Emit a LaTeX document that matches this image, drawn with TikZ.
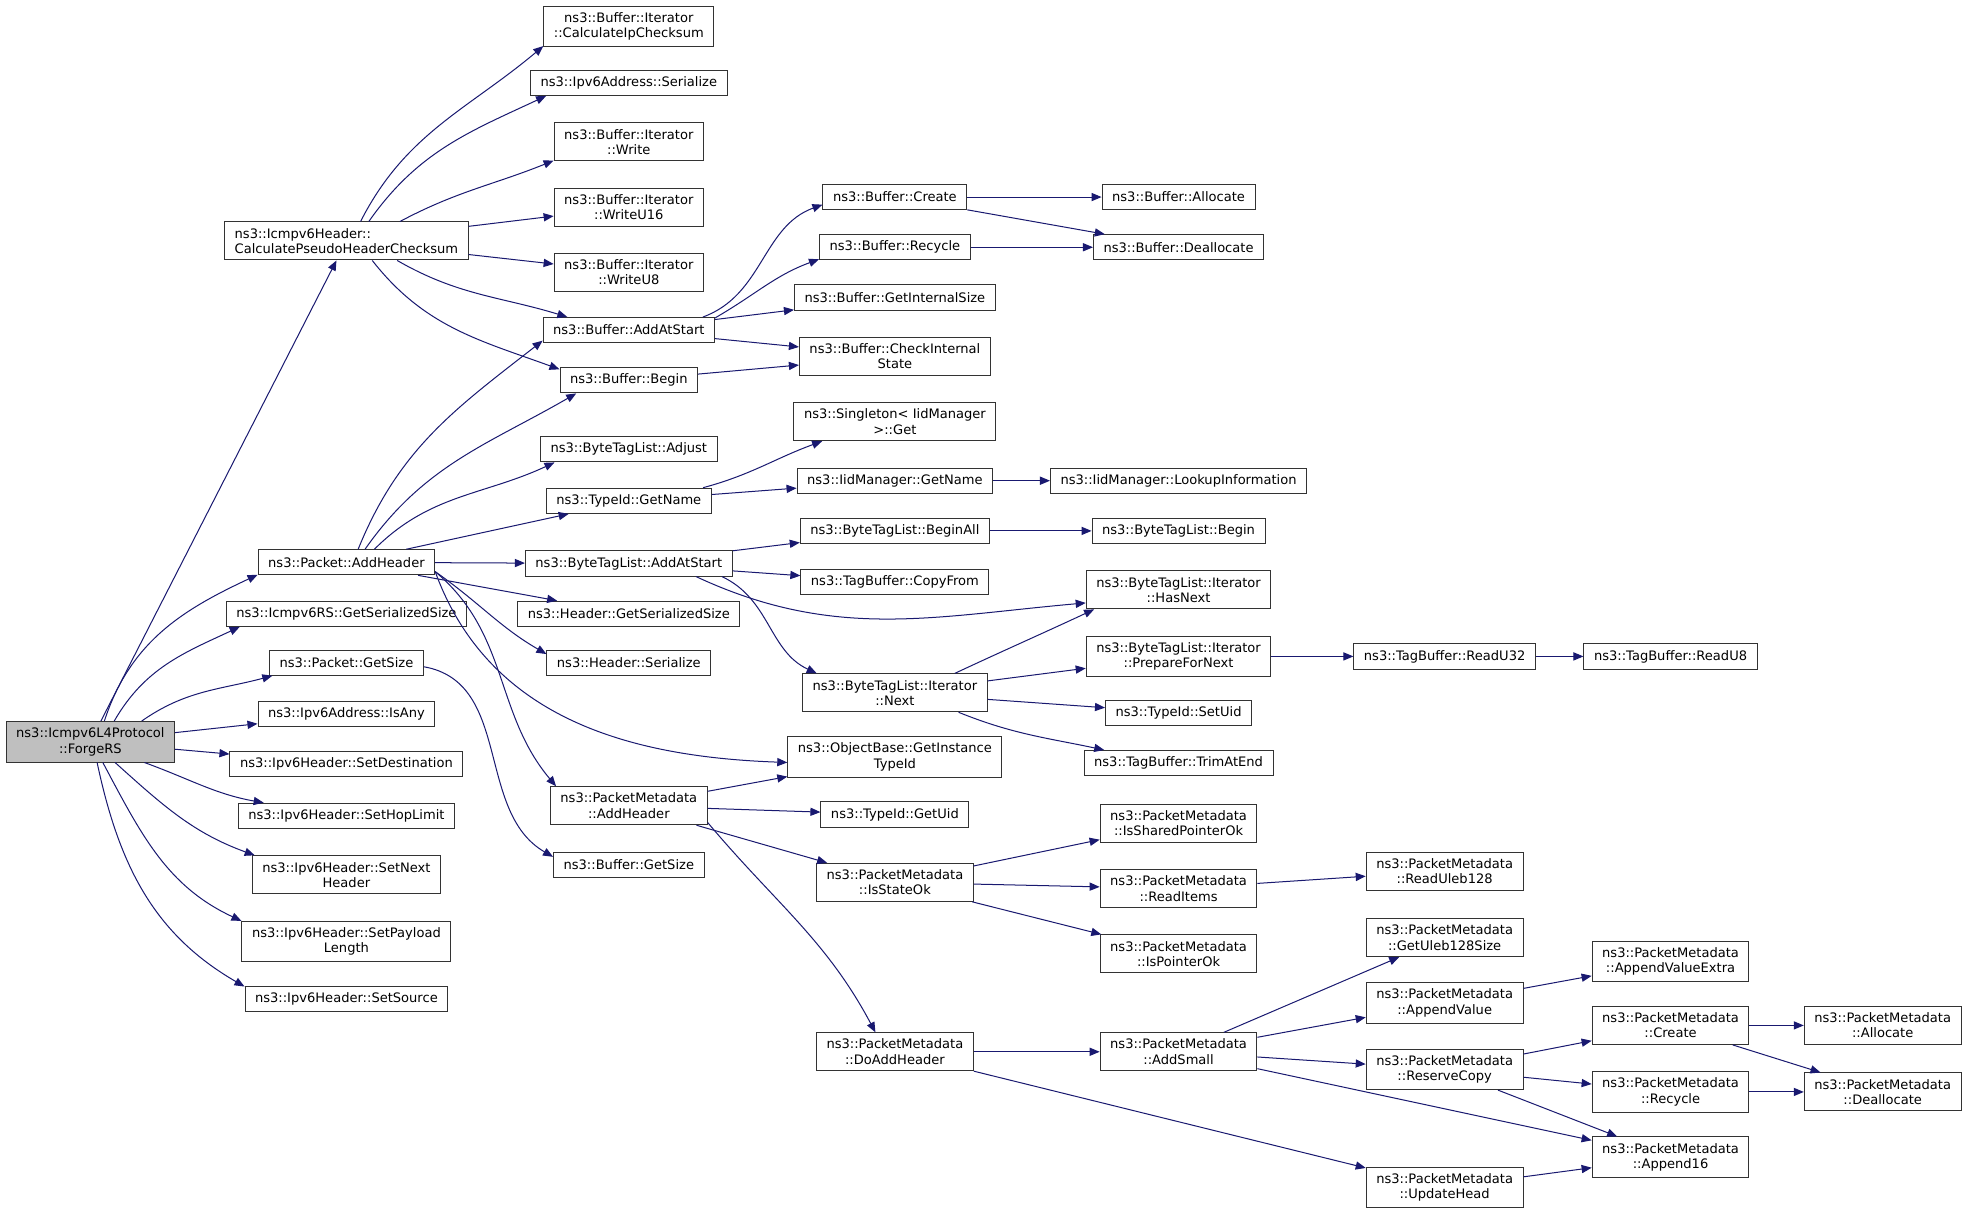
\documentclass[tikz,border=0pt]{standalone}
\usepackage{fontspec}
\newfontfamily\dejavu{DejaVu Sans}
\usetikzlibrary{arrows.meta}
\definecolor{callblue}{HTML}{191970}
\definecolor{rootgray}{HTML}{BFBFBF}
\tikzset{
    fn/.style={draw=black!80, line width=0.8pt, inner xsep=8pt, inner ysep=5pt,
        minimum height=20pt, align=center, font=\dejavu\fontsize{10.4}{12.2}\selectfont},
    root/.style={fn, fill=rootgray},
    call/.style={draw=callblue, line width=0.8pt, -{Triangle[length=8pt,width=6.5pt]}}
}
\begin{document}
\begin{tikzpicture}[x=1pt, y=1pt]
    \path[use as bounding box, fill=white] (0,0) rectangle (1568,-965);
    % caller and first level
    \node[root] (forge) at (72,-591) {ns3::Icmpv6L4Protocol\\::ForgeRS};
    \node[fn, align=left] (cphc) at (276,-192) {ns3::Icmpv6Header::\\CalculatePseudoHeaderChecksum};
    \node[fn] (pktadd) at (276,-448) {ns3::Packet::AddHeader};
    \node[fn] (rsgss) at (276,-489) {ns3::Icmpv6RS::GetSerializedSize};
    \node[fn] (pktsize) at (276,-528) {ns3::Packet::GetSize};
    \node[fn] (isany) at (276,-569) {ns3::Ipv6Address::IsAny};
    \node[fn] (setdest) at (276,-609) {ns3::Ipv6Header::SetDestination};
    \node[fn] (sethop) at (276,-650) {ns3::Ipv6Header::SetHopLimit};
    \node[fn] (setnext) at (276,-697) {ns3::Ipv6Header::SetNext\\Header};
    \node[fn] (setpay) at (276,-750) {ns3::Ipv6Header::SetPayload\\Length};
    \node[fn] (setsrc) at (276,-796) {ns3::Ipv6Header::SetSource};
    % second level
    \node[fn] (calcip) at (501,-21) {ns3::Buffer::Iterator\\::CalculateIpChecksum};
    \node[fn] (v6ser) at (501,-66) {ns3::Ipv6Address::Serialize};
    \node[fn] (itwrite) at (501,-113) {ns3::Buffer::Iterator\\::Write};
    \node[fn] (itwu16) at (501,-165) {ns3::Buffer::Iterator\\::WriteU16};
    \node[fn] (itwu8) at (501,-217) {ns3::Buffer::Iterator\\::WriteU8};
    \node[fn] (bufadd) at (501,-263) {ns3::Buffer::AddAtStart};
    \node[fn] (bufbegin) at (501,-303) {ns3::Buffer::Begin};
    \node[fn] (btladjust) at (501,-358) {ns3::ByteTagList::Adjust};
    \node[fn] (tidname) at (501,-399) {ns3::TypeId::GetName};
    \node[fn] (btladd) at (501,-449) {ns3::ByteTagList::AddAtStart};
    \node[fn] (hgss) at (501,-489) {ns3::Header::GetSerializedSize};
    \node[fn] (hser) at (501,-528) {ns3::Header::Serialize};
    \node[fn] (pmadd) at (501,-642) {ns3::PacketMetadata\\::AddHeader};
    \node[fn] (bufsize) at (501,-689) {ns3::Buffer::GetSize};
    % third level
    \node[fn] (bufcreate) at (713,-157) {ns3::Buffer::Create};
    \node[fn] (bufrecycle) at (713,-197) {ns3::Buffer::Recycle};
    \node[fn] (bufgis) at (713,-237) {ns3::Buffer::GetInternalSize};
    \node[fn] (bufcis) at (713,-284) {ns3::Buffer::CheckInternal\\State};
    \node[fn] (singleton) at (713,-336) {ns3::Singleton\textless{} IidManager\\\textgreater{}::Get};
    \node[fn] (iidname) at (713,-383) {ns3::IidManager::GetName};
    \node[fn] (beginall) at (713,-423) {ns3::ByteTagList::BeginAll};
    \node[fn] (copyfrom) at (713,-464) {ns3::TagBuffer::CopyFrom};
    \node[fn] (itnext) at (713,-552) {ns3::ByteTagList::Iterator\\::Next};
    \node[fn] (objgit) at (713,-603) {ns3::ObjectBase::GetInstance\\TypeId};
    \node[fn] (tiduid) at (713,-649) {ns3::TypeId::GetUid};
    \node[fn] (stateok) at (713,-703) {ns3::PacketMetadata\\::IsStateOk};
    \node[fn] (doadd) at (713,-838) {ns3::PacketMetadata\\::DoAddHeader};
    % fourth level
    \node[fn] (bufalloc) at (939,-157) {ns3::Buffer::Allocate};
    \node[fn] (bufdealloc) at (939,-197) {ns3::Buffer::Deallocate};
    \node[fn] (lookup) at (939,-383) {ns3::IidManager::LookupInformation};
    \node[fn] (btlbegin) at (939,-423) {ns3::ByteTagList::Begin};
    \node[fn] (hasnext) at (939,-470) {ns3::ByteTagList::Iterator\\::HasNext};
    \node[fn] (prepnext) at (939,-523) {ns3::ByteTagList::Iterator\\::PrepareForNext};
    \node[fn] (setuid) at (939,-568) {ns3::TypeId::SetUid};
    \node[fn] (trim) at (939,-608) {ns3::TagBuffer::TrimAtEnd};
    \node[fn] (sharedok) at (939,-656) {ns3::PacketMetadata\\::IsSharedPointerOk};
    \node[fn] (readitems) at (939,-708) {ns3::PacketMetadata\\::ReadItems};
    \node[fn] (ptrok) at (939,-760) {ns3::PacketMetadata\\::IsPointerOk};
    \node[fn] (addsmall) at (939,-838) {ns3::PacketMetadata\\::AddSmall};
    % fifth level and beyond
    \node[fn] (readu32) at (1151,-523) {ns3::TagBuffer::ReadU32};
    \node[fn] (readuleb) at (1151,-694) {ns3::PacketMetadata\\::ReadUleb128};
    \node[fn] (getuleb) at (1151,-747) {ns3::PacketMetadata\\::GetUleb128Size};
    \node[fn] (appendvalue) at (1151,-799) {ns3::PacketMetadata\\::AppendValue};
    \node[fn] (reservecopy) at (1151,-852) {ns3::PacketMetadata\\::ReserveCopy};
    \node[fn] (updatehead) at (1151,-946) {ns3::PacketMetadata\\::UpdateHead};
    \node[fn] (readu8) at (1331,-523) {ns3::TagBuffer::ReadU8};
    \node[fn] (appendextra) at (1331,-766) {ns3::PacketMetadata\\::AppendValueExtra};
    \node[fn] (pmcreate) at (1331,-817) {ns3::PacketMetadata\\::Create};
    \node[fn] (pmrecycle) at (1331,-870) {ns3::PacketMetadata\\::Recycle};
    \node[fn] (append16) at (1331,-922) {ns3::PacketMetadata\\::Append16};
    \node[fn] (pmalloc) at (1500,-817) {ns3::PacketMetadata\\::Allocate};
    \node[fn] (pmdealloc) at (1500,-870) {ns3::PacketMetadata\\::Deallocate};
    % straight calls
    \foreach \a/\b in {
        forge/cphc, forge/isany, forge/setdest,
        cphc/itwu16, cphc/itwu8,
        pktadd/tidname, pktadd/btladd, pktadd/hgss,
        bufadd/bufgis, bufadd/bufcis, bufbegin/bufcis,
        bufcreate/bufalloc, bufcreate/bufdealloc, bufrecycle/bufdealloc,
        tidname/iidname, iidname/lookup,
        btladd/beginall, btladd/copyfrom, beginall/btlbegin,
        itnext/prepnext, itnext/setuid, prepnext/readu32, readu32/readu8,
        pmadd/objgit, pmadd/tiduid, pmadd/stateok,
        stateok/sharedok, stateok/readitems, stateok/ptrok, readitems/readuleb,
        doadd/addsmall, doadd/updatehead,
        addsmall/getuleb, addsmall/appendvalue, addsmall/reservecopy, addsmall/append16,
        appendvalue/appendextra, reservecopy/pmcreate, reservecopy/pmrecycle, reservecopy/append16,
        pmcreate/pmalloc, pmcreate/pmdealloc, pmrecycle/pmdealloc, updatehead/append16}
        {\draw[call] (\a) -- (\b);}
    % curved calls
    \foreach \a/\b/\o/\i in {
        forge.56/pktadd.188/72/205,
        forge.41/rsgss.187/60/205,
        forge.22/pktsize.190/35/195,
        forge.-21/sethop.171/-20/170,
        forge.-40/setnext.168/-42/160,
        forge.-59/setpay.169/-62/155,
        forge.-72/setsrc.173/-78/150,
        cphc.54/calcip.193/63/220,
        cphc.41/v6ser.189/55/205,
        cphc.20/itwrite.194/28/202,
        cphc.-21/bufadd.168/-30/163,
        cphc.-37/bufbegin.171/-52/160,
        pktadd.48/bufadd.187/68/218,
        pktadd.35/bufbegin.194/55/210,
        pktadd.25/btladjust.190/45/205,
        pktadd.-6/hser.174/-35/150,
        pktadd.-6/objgit.183/-70/178,
        pktadd.-6/pmadd.165/-40/130,
        pktsize.-3/bufsize.174/-10/150,
        bufadd.10/bufcreate.186/20/200,
        bufadd.8/bufrecycle.189/30/200,
        tidname.10/singleton.195/15/200,
        btladd.-11/hasnext.188/-25/185,
        btladd.-8/itnext.166/-25/155,
        itnext.18/hasnext.193/25/205,
        itnext.-17/trim.170/-22/168,
        pmadd.-12/doadd.135/-50/118}
        {\draw[call] (\a) to[out=\o, in=\i] (\b);}
\end{tikzpicture}
\end{document}
